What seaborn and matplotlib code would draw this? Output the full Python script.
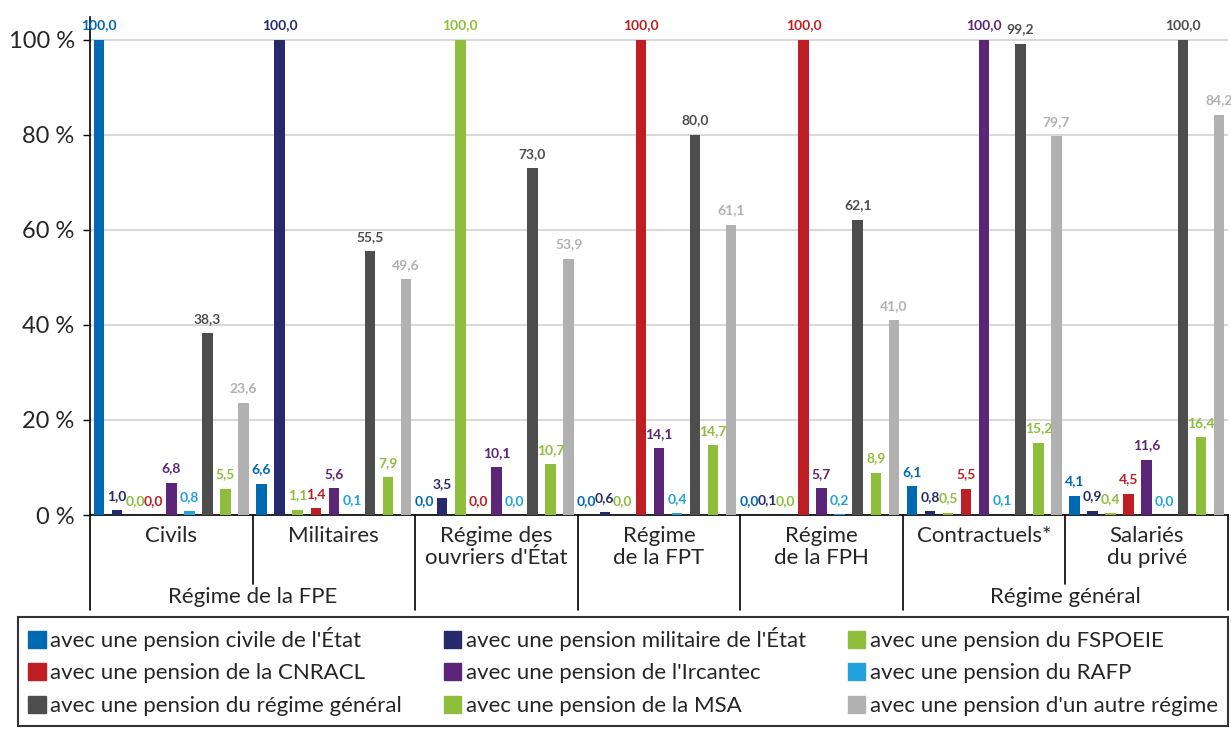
import pandas as pd
import matplotlib.pyplot as plt
import matplotlib.transforms as mtransforms
import seaborn as sns

# Categories (x groups) and series
categories = ['Civils', 'Militaires', "Régime des\nouvriers d'État",
              'Régime\nde la FPT', 'Régime\nde la FPH', 'Contractuels*',
              'Salariés\ndu privé']
series = ["avec une pension civile de l'État",
          "avec une pension militaire de l'État",
          "avec une pension du FSPOEIE",
          "avec une pension de la CNRACL",
          "avec une pension de l'Ircantec",
          "avec une pension du RAFP",
          "avec une pension du régime général",
          "avec une pension de la MSA",
          "avec une pension d'un autre régime"]

civile = [100.0, 6.6, 0.0, 0.0, 0.0, 6.1, 4.1]
militaire = [1.0, 100.0, 3.5, 0.6, 0.1, 0.8, 0.9]
fspoeie = [0.0, 1.1, 100.0, 0.0, 0.0, 0.5, 0.4]
cnracl = [0.0, 1.4, 0.0, 100.0, 100.0, 5.5, 4.5]
ircantec = [6.8, 5.6, 10.1, 14.1, 5.7, 100.0, 11.6]
rafp = [0.8, 0.1, 0.0, 0.4, 0.2, 0.1, 0.0]
general = [38.3, 55.5, 73.0, 80.0, 62.1, 99.2, 100.0]
msa = [5.5, 7.9, 10.7, 14.7, 8.9, 15.2, 16.4]
autre = [23.6, 49.6, 53.9, 61.1, 41.0, 79.7, 84.2]

colors = ['#0069b4', '#262a6c', '#8fbe3c', '#be1e24', '#5c2678',
          '#20a3dc', '#4d4d4d', '#8fbe3c', '#b1b1b1']

values = [civile, militaire, fspoeie, cnracl, ircantec, rafp, general, msa, autre]
rows = []
for s, vals in zip(series, values):
    for c, v in zip(categories, vals):
        rows.append({'cat': c, 'serie': s, 'val': v})
df = pd.DataFrame(rows)

sns.set_style('white')
plt.rcParams['font.family'] = ['Lato', 'DejaVu Sans']

fig = plt.figure(figsize=(12.31, 7.29), dpi=100)
W, H = 1231, 729
ax = fig.add_axes([90 / W, 1 - 515 / H, (1228 - 90) / W, (515 - 17) / H])

sns.barplot(data=df, x='cat', y='val', hue='serie', order=categories,
            hue_order=series, palette=colors, width=1.0, gap=0.42,
            saturation=1, legend=False, ax=ax, zorder=3, linewidth=0)

# value labels
for cont, col in zip(ax.containers, colors):
    labels = [f'{b.get_height():.1f}'.replace('.', ',') for b in cont]
    ax.bar_label(cont, labels=labels, color=col, fontsize=10,
                 fontweight='bold', padding=6, clip_on=False)

ax.set_xlim(-0.5, len(categories) - 0.5)
ax.set_ylim(0, 104.8)
ax.set_yticks([0, 20, 40, 60, 80, 100])
ax.set_yticklabels(['0 %', '20 %', '40 %', '60 %', '80 %', '100 %'], fontsize=17)
ax.tick_params(axis='y', length=5, width=1, color='black', pad=6, left=True)
ax.set_xticks([])
ax.set_xlabel('')
ax.set_ylabel('')
ax.yaxis.grid(True, color='#d9d9d9', linewidth=1.5, zorder=0)
ax.set_axisbelow(True)
for side in ['top', 'right']:
    ax.spines[side].set_visible(False)
ax.spines['left'].set_color('black')
ax.spines['bottom'].set_color('black')
ax.spines['left'].set_linewidth(1.2)
ax.spines['bottom'].set_linewidth(1.2)

# category axis below the chart
tr = mtransforms.blended_transform_factory(ax.transData, fig.transFigure)
y_full = 1 - 610 / H
y_short = 1 - 584 / H
y_axis = 1 - 515 / H
for b in [-0.5, 1.5, 2.5, 3.5, 4.5, 6.5]:
    ax.plot([b, b], [y_axis, y_full], transform=tr, color='black', lw=1.2, clip_on=False)
for b in [0.5, 5.5]:
    ax.plot([b, b], [y_axis, y_short], transform=tr, color='black', lw=1.2, clip_on=False)

for i, c in enumerate(categories):
    ax.text(i, 1 - 526 / H, c, transform=tr, ha='center', va='top',
            fontsize=16, linespacing=1.15)
ax.text(0.5, 1 - 597 / H, 'Régime de la FPE', transform=tr, ha='center',
        va='center', fontsize=16)
ax.text(5.5, 1 - 597 / H, 'Régime général', transform=tr, ha='center',
        va='center', fontsize=16)

# legend ordered row-wise in 3 columns
handles = [plt.Rectangle((0, 0), 1, 1, color=c) for c in colors]
order = [0, 3, 6, 1, 4, 7, 2, 5, 8]
leg = fig.legend([handles[i] for i in order], [series[i] for i in order],
                 ncol=3, loc='upper left',
                 bbox_to_anchor=(18 / W, 0, (1228 - 18) / W, 1 - 617 / H),
                 mode='expand', fontsize=16, frameon=True, fancybox=False,
                 handlelength=0.8, handleheight=0.8, handletextpad=0.2,
                 borderaxespad=0, labelspacing=0.55, borderpad=0.45)
leg.get_frame().set_edgecolor('black')
leg.get_frame().set_linewidth(1.5)

fig.savefig('out.png', dpi=100)
